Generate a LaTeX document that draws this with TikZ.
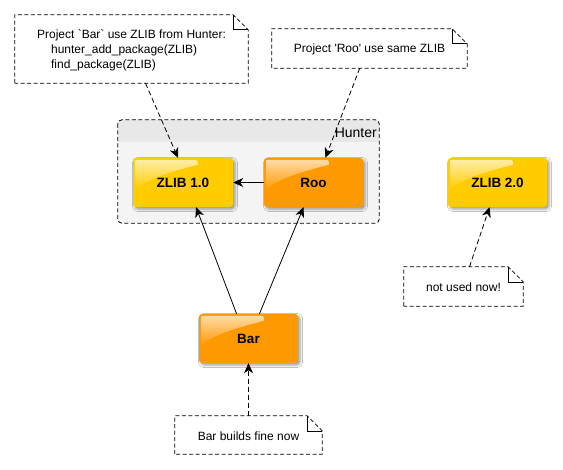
\documentclass[tikz,border=0pt]{standalone}
\usepackage{fontspec}
\setmainfont{Liberation Sans}
\usetikzlibrary{arrows.meta,calc,fadings,shadows.blur}
\definecolor{zyellow}{HTML}{FFCC00}
\definecolor{zorange}{HTML}{FF9900}
\definecolor{hbody}{HTML}{F4F4F4}
\definecolor{hhead}{HTML}{E8E8E8}
\tikzfading[name=glossfade, top color=transparent!35, bottom color=transparent!100]
\tikzset{
  pkg/.style={rounded corners=3bp, minimum width=99bp, minimum height=49bp, inner sep=0pt,
    font=\fontsize{13.5bp}{16bp}\selectfont\bfseries,
    blur shadow={shadow xshift=2bp, shadow yshift=-2bp, shadow blur radius=2.5bp, shadow opacity=40}},
  notebox/.style={inner sep=0pt, font=\fontsize{12bp}{15bp}\selectfont},
  noteline/.style={draw=black, dash pattern=on 4bp off 2.5bp, line width=0.8bp},
  link/.style={-{Stealth[length=10bp,width=9bp,inset=3bp]}, line width=0.8bp},
  dlink/.style={link, dash pattern=on 5bp off 3bp},
}
\newcommand{\glossit}[1]{%
  \fill[white, path fading=glossfade]
    ([shift={(2,32)}]#1.north west) -- ([shift={(2,6)}]#1.north west)
    .. controls ([shift={(2,2)}]#1.north west) .. ([shift={(6,2)}]#1.north west)
    -- ([shift={(60,2)}]#1.north west)
    .. controls ([shift={(65,2)}]#1.north west) .. ([shift={(65,7)}]#1.north west)
    .. controls ([shift={(42,13)}]#1.north west) and ([shift={(15,20)}]#1.north west) .. ([shift={(2,32)}]#1.north west)
    -- cycle;}
\newcommand{\dogear}[1]{%
  \draw[noteline, fill=white] (#1.south west) -- (#1.north west) -- ([xshift=-15bp]#1.north east)
    -- ([yshift=-15bp]#1.north east) -- (#1.south east) -- cycle;
  \draw[line width=0.6bp] ([xshift=-15bp]#1.north east) -- ([xshift=-15bp,yshift=-15bp]#1.north east)
    -- ([yshift=-15bp]#1.north east);}
\begin{document}
\begin{tikzpicture}[x=1bp, y=-1bp]
\useasboundingbox (0,0) rectangle (563,470);
\fill[white] (0,0) rectangle (563,470);

% Hunter container
\node[fill=hbody, rounded corners=4bp, minimum width=261bp, minimum height=103bp, inner sep=0pt] (hunter) at (248.5,171.5) {};
\begin{scope}
  \clip[rounded corners=4bp] (hunter.north west) rectangle (hunter.south east);
  \fill[hhead] (hunter.north west) rectangle ([yshift=-22bp]hunter.north east);
\end{scope}
\draw[noteline, rounded corners=4bp] (hunter.north west) rectangle (hunter.south east);
\node[anchor=base east, font=\fontsize{14bp}{16bp}\selectfont, inner sep=0pt] (hunterlbl) at (377,138) {Hunter};

% package boxes
\node[pkg, fill=zyellow, minimum width=100bp] (zlib1) at (183,182.5) {ZLIB 1.0};
\glossit{zlib1}
\node[pkg, fill=zorange] (roo) at (313.5,182.5) {Roo};
\glossit{roo}
\node[pkg, fill=zyellow] (zlib2) at (497.5,182.5) {ZLIB 2.0};
\glossit{zlib2}
\node[pkg, fill=zorange] (bar) at (248.5,338.5) {Bar};
\glossit{bar}

% notes
\node[notebox, minimum width=233bp, minimum height=68bp] (n1) at (131.5,49) {};
\dogear{n1}
\node[notebox, align=left] (n1text) at (131.5,50) {Project \textasciigrave Bar\textasciigrave\ use ZLIB from Hunter:\\\hspace*{14bp}hunter\_add\_package(ZLIB)\\\hspace*{14bp}find\_package(ZLIB)};

\node[notebox, minimum width=195bp, minimum height=39bp] (n2) at (369.5,48.5) {};
\dogear{n2}
\node[notebox] (n2text) at (369.5,49.5) {Project \textquotesingle Roo\textquotesingle\ use same ZLIB};

\node[notebox, minimum width=119bp, minimum height=39bp] (n3) at (463.5,286.5) {};
\dogear{n3}
\node[notebox] (n3text) at (463.5,287.5) {not used now!};

\node[notebox, minimum width=147bp, minimum height=38bp] (n4) at (248.5,435) {};
\dogear{n4}
\node[notebox] (n4text) at (248.5,436) {Bar builds fine now};

% connectors
\draw[dlink] ($(n1.south west)!0.56!(n1.south east)$) -- ($(zlib1.north west)!0.45!(zlib1.north east)$);
\draw[dlink] ($(n2.south west)!0.45!(n2.south east)$) -- ($(roo.north west)!0.62!(roo.north east)$);
\draw[link] (roo.west) -- (zlib1.east);
\draw[link] ($(bar.north west)!0.38!(bar.north east)$) -- ($(zlib1.south west)!0.63!(zlib1.south east)$);
\draw[link] ($(bar.north west)!0.61!(bar.north east)$) -- ($(roo.south west)!0.40!(roo.south east)$);
\draw[dlink] ($(n3.north west)!0.55!(n3.north east)$) -- ($(zlib2.south west)!0.42!(zlib2.south east)$);
\draw[dlink] (n4.north) -- (bar.south);
\end{tikzpicture}
\end{document}
